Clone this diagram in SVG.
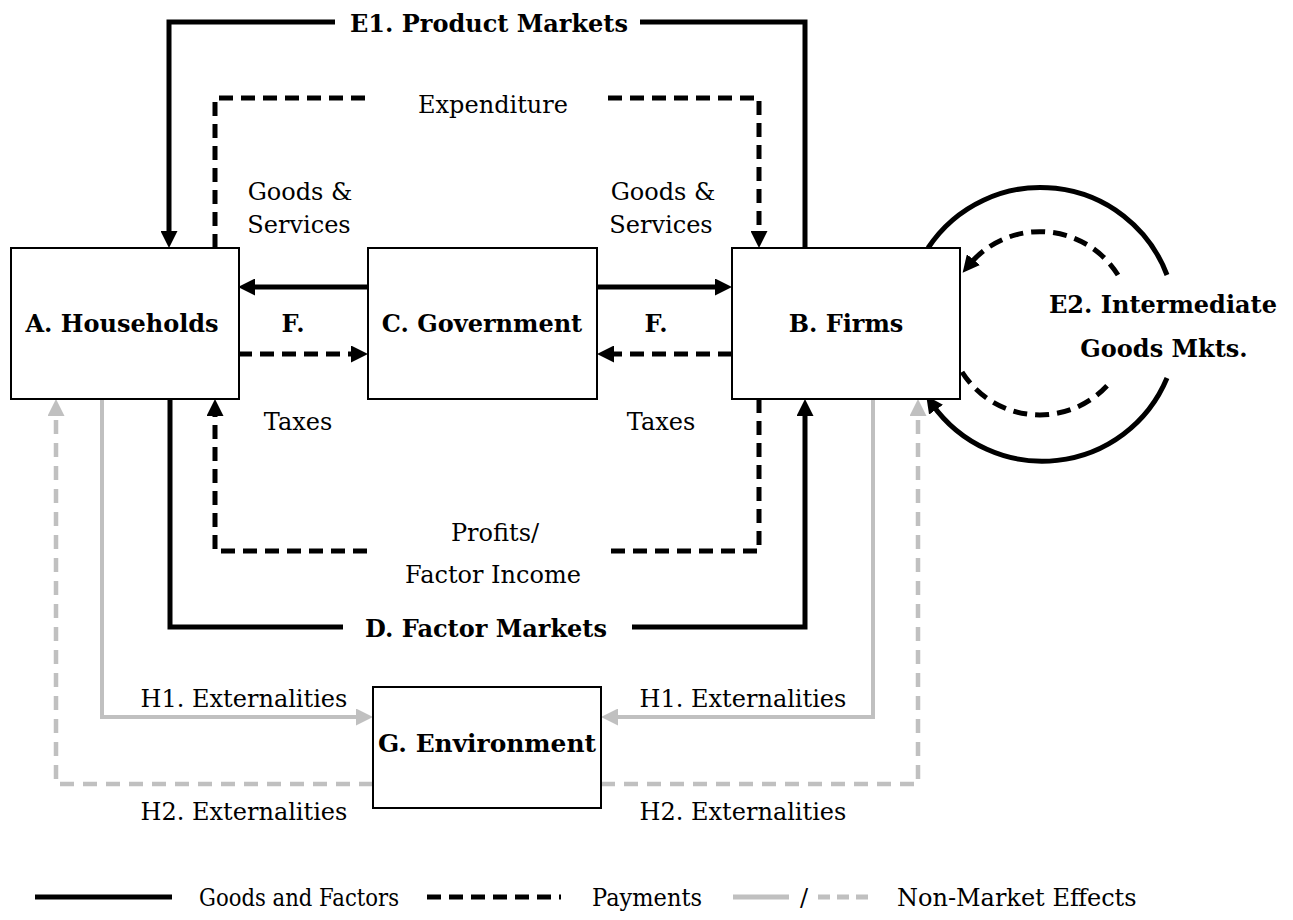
<svg xmlns="http://www.w3.org/2000/svg" width="1293" height="920" viewBox="0 0 1293 920">
<style>
.box{fill:#fff;stroke:#000;stroke-width:2}
text{font-family:"DejaVu Serif","Liberation Serif",serif;font-size:24px;fill:#000;text-anchor:middle}
.b{font-weight:bold}
.lg{text-anchor:start}
.solid{fill:none;stroke:#000;stroke-width:5}
.dash{fill:none;stroke:#000;stroke-width:5;stroke-dasharray:14 8}
.gsolid{fill:none;stroke:#c0c0c0;stroke-width:4}
.gdash{fill:none;stroke:#c0c0c0;stroke-width:4.5;stroke-dasharray:14 9}
</style>
<defs>
<marker id="ab" markerUnits="userSpaceOnUse" markerWidth="17" markerHeight="17" viewBox="0 0 17 17" refX="7" refY="8.5" orient="auto"><path d="M0,0 L17,8.5 L0,17 z" fill="#000"/></marker>
<marker id="ag" markerUnits="userSpaceOnUse" markerWidth="17" markerHeight="17" viewBox="0 0 17 17" refX="7" refY="8.5" orient="auto"><path d="M0,0 L17,8.5 L0,17 z" fill="#c0c0c0"/></marker>
</defs>
<rect width="1293" height="920" fill="#fff"/>

<g id="connectors">
  <!-- E1 product markets -->
  <path class="solid" d="M805,248 V22 H640 M335,22 H169 V238" marker-end="url(#ab)"/>
  <!-- D factor markets -->
  <path class="solid" d="M170,399 V627 H343 M632,627 H805 V409" marker-end="url(#ab)"/>
  <!-- Expenditure -->
  <path class="dash" d="M215,248 V98 H366 M608,98 H759 V238" marker-end="url(#ab)"/>
  <!-- Profits / factor income -->
  <path class="dash" d="M759,399 V551 H608 M367,551 H215 V409" marker-end="url(#ab)"/>
  <!-- Government goods & services -->
  <path class="solid" d="M368,287 H248" marker-end="url(#ab)"/>
  <path class="solid" d="M598,287 H722" marker-end="url(#ab)"/>
  <!-- Taxes -->
  <path class="dash" d="M238,354 H358" marker-end="url(#ab)"/>
  <path class="dash" d="M732,354 H607" marker-end="url(#ab)"/>
  <!-- E2 intermediate goods loops -->
  <path class="solid" d="M928,248 A135,135 0 0 1 1167,275"/>
  <path class="solid" d="M1167,378 A135,135 0 0 1 932,404" marker-end="url(#ab)"/>
  <path class="dash" d="M962,372 A92,92 0 0 0 1112,380"/>
  <path class="dash" d="M1118,275 A92,92 0 0 0 969,265" marker-end="url(#ab)"/>
  <!-- Externalities -->
  <path class="gsolid" d="M102,399 V717 H363" marker-end="url(#ag)"/>
  <path class="gsolid" d="M873,399 V717 H611" marker-end="url(#ag)"/>
  <path class="gdash" d="M373,784 H56 V409" marker-end="url(#ag)"/>
  <path class="gdash" d="M601,784 H918 V409" marker-end="url(#ag)"/>

  <text class="b" x="489" y="32">E1. Product Markets</text>
  <text class="b" x="486" y="637">D. Factor Markets</text>
  <text x="493" y="113">Expenditure</text>
  <text x="300" y="200">Goods &amp;</text>
  <text x="299" y="233">Services</text>
  <text x="663" y="200">Goods &amp;</text>
  <text x="661" y="233">Services</text>
  <text class="b" x="293" y="332">F.</text>
  <text class="b" x="656" y="332">F.</text>
  <text x="298" y="430">Taxes</text>
  <text x="661" y="430">Taxes</text>
  <text x="495" y="541">Profits/</text>
  <text x="493" y="583">Factor Income</text>
  <text class="b" x="1163" y="313">E2. Intermediate</text>
  <text class="b" x="1164" y="357">Goods Mkts.</text>
  <text x="244" y="707">H1. Externalities</text>
  <text x="244" y="820">H2. Externalities</text>
  <text x="743" y="707">H1. Externalities</text>
  <text x="743" y="820">H2. Externalities</text>
</g>

<g id="node-A">
  <rect class="box" x="11" y="248" width="228" height="151"/>
  <text class="b" x="122" y="332">A. Households</text>
</g>
<g id="node-C">
  <rect class="box" x="368" y="248" width="229" height="151"/>
  <text class="b" x="482" y="332">C. Government</text>
</g>
<g id="node-B">
  <rect class="box" x="732" y="248" width="228" height="151"/>
  <text class="b" x="846" y="332">B. Firms</text>
</g>
<g id="node-G">
  <rect class="box" x="373" y="687" width="228" height="121"/>
  <text class="b" x="487" y="752" textLength="218" lengthAdjust="spacingAndGlyphs">G. Environment</text>
</g>

<g id="legend">
  <line x1="35" y1="897" x2="172" y2="897" stroke="#000" stroke-width="5"/>
  <text class="lg" x="199" y="906" textLength="200" lengthAdjust="spacingAndGlyphs">Goods and Factors</text>
  <line x1="427" y1="897" x2="561" y2="897" stroke="#000" stroke-width="5" stroke-dasharray="14 8"/>
  <text class="lg" x="592" y="906" textLength="110" lengthAdjust="spacingAndGlyphs">Payments</text>
  <line x1="733" y1="897" x2="789" y2="897" stroke="#c0c0c0" stroke-width="5"/>
  <text class="lg" x="800" y="906">/</text>
  <line x1="818" y1="897" x2="873" y2="897" stroke="#c0c0c0" stroke-width="5" stroke-dasharray="12 7"/>
  <text class="lg" x="897" y="906">Non-Market Effects</text>
</g>
</svg>
